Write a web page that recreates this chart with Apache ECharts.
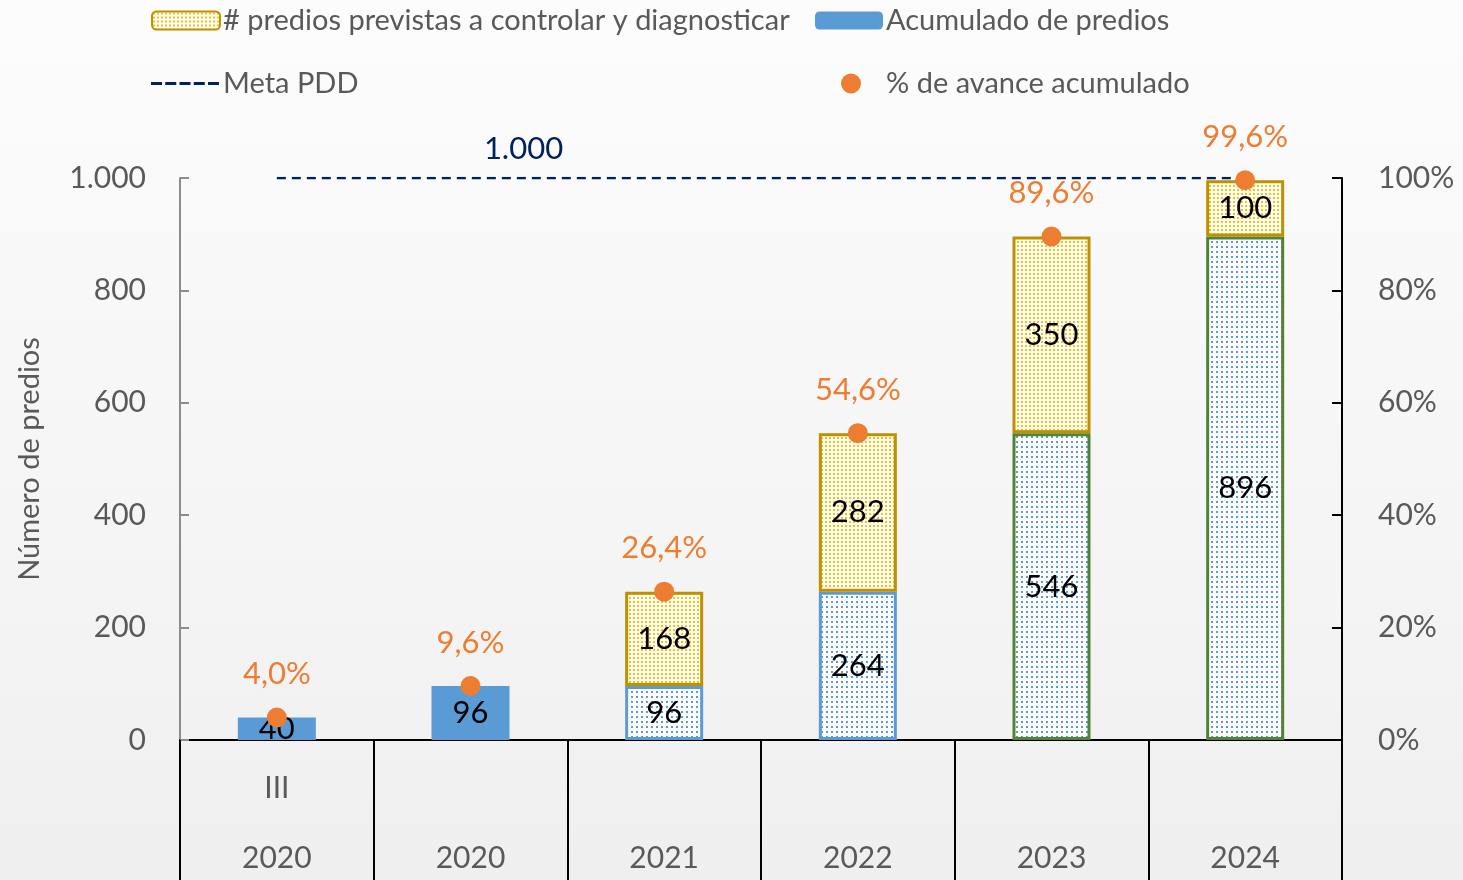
<!DOCTYPE html>
<html lang="es">
<head>
<meta charset="UTF-8">
<title>Predios</title>
<script src="https://cdn.jsdelivr.net/npm/echarts@6/dist/echarts.min.js"></script>
<style>
  html, body { margin: 0; padding: 0; }
  #main { width: 1463px; height: 880px; }
</style>
</head>
<body>
<div id="main"></div>
<script type="text/javascript">
// data
const periodos = ['III', '', '', '', '', ''];
const anios = ['2020', '2020', '2021', '2022', '2023', '2024'];
const acumulado = [40, 96, 96, 264, 546, 896];
const previstas = [null, null, 168, 282, 350, 100];
const metaPDD = [1000, 1000, 1000, 1000, 1000, 1000];
const avance = [4.0, 9.6, 26.4, 54.6, 89.6, 99.6];

const FONT = 'Lato';
const GREY = '#595959';

// small dotted pattern for the hatched bars
function dots(color, size) {
    const c = document.createElement('canvas');
    c.width = size; c.height = size;
    const ctx = c.getContext('2d');
    ctx.fillStyle = '#ffffff';
    ctx.fillRect(0, 0, size, size);
    ctx.fillStyle = color;
    ctx.fillRect(1, 1, 2, 2);
    return { image: c, repeat: 'repeat' };
}
const bluePat = dots('#5b9bd5', 5);
const yellowPat = dots('#ffc000', 4);

// per bar style of the blue series: first two solid, next hatched blue border, last green border
const acumData = acumulado.map((v, i) => {
    if (i < 2) return { value: v, itemStyle: { color: '#5b9bd5' } };
    return {
        value: v,
        itemStyle: { color: bluePat, borderColor: i < 4 ? '#5b9bd5' : '#548235', borderWidth: 3 }
    };
});

const fmt = v => String(v).replace(/\B(?=(\d{3})+(?!\d))/g, '.');

// dashed icon for the Meta PDD legend entry
const dashIcon = 'path://M0,0h11v3h-11z M14.25,0h11v3h-11z M28.5,0h11v3h-11z M42.75,0h11v3h-11z M57,0h11v3h-11z';

const legendText = { fontSize: 29, color: GREY, fontFamily: FONT };

let options = {
    backgroundColor: {
        type: 'linear', x: 0, y: 0, x2: 0, y2: 1,
        colorStops: [{ offset: 0, color: '#fcfcfc' }, { offset: 0.6, color: '#f5f5f5' }, { offset: 1, color: '#efefef' }]
    },
    animation: false,
    textStyle: { fontFamily: FONT },
    legend: [
        { left: 146, top: 1, itemWidth: 68, itemHeight: 18, data: ['# predios previstas a controlar y diagnosticar'],
          textStyle: Object.assign({ padding: [0, 0, 0, -2] }, legendText) },
        { left: 810, top: 1, itemWidth: 68, itemHeight: 18, data: ['Acumulado de predios'],
          textStyle: Object.assign({ padding: [0, 0, 0, -2] }, legendText) },
        { left: 146, top: 64, itemWidth: 70, itemHeight: 3,
          data: [{ name: 'Meta PDD', icon: dashIcon, itemStyle: { color: '#002060' } }],
          textStyle: Object.assign({ padding: [0, 0, 0, -2] }, legendText) },
        { left: 836, top: 64, itemWidth: 20, itemHeight: 20, data: ['% de avance acumulado'],
          textStyle: Object.assign({ padding: [0, 0, 0, 20] }, legendText) }
    ],
    grid: { left: 180, right: 121, top: 178, bottom: 140, containLabel: false, outerBoundsMode: 'none' },
    xAxis: {
        type: 'category',
        data: anios,
        axisLine: { lineStyle: { color: '#000', width: 2 } },
        axisTick: { show: true, length: 142, interval: 0, lineStyle: { color: '#000', width: 2 } },
        axisLabel: {
            interval: 0, margin: 13, fontSize: 30, color: GREY, fontFamily: FONT, lineHeight: 70,
            formatter: (v, i) => periodos[i] + '\n' + v
        }
    },
    yAxis: [{
        type: 'value', min: 0, max: 1000, interval: 200,
        name: 'Número de predios', nameLocation: 'middle', nameGap: 136, nameRotate: 90,
        nameTextStyle: { fontSize: 29, color: GREY, fontFamily: FONT },
        axisLine: { show: true, lineStyle: { color: '#8c8c8c', width: 2 } },
        axisTick: { show: true, inside: true, length: 9, lineStyle: { color: '#8c8c8c', width: 2 } },
        axisLabel: { fontSize: 30, color: GREY, fontFamily: FONT, margin: 34, formatter: fmt },
        splitLine: { show: false }
    }, {
        type: 'value', min: 0, max: 100, interval: 20,
        axisLine: { show: true, lineStyle: { color: '#000', width: 2 } },
        axisTick: { show: true, inside: true, length: 10, lineStyle: { color: '#000', width: 2 } },
        axisLabel: { fontSize: 30, color: GREY, fontFamily: FONT, margin: 36, formatter: '{value}%' },
        splitLine: { show: false }
    }],
    series: [{
        name: 'Acumulado de predios',
        type: 'bar', stack: 'a', barWidth: 78,
        data: acumData,
        itemStyle: { color: '#5b9bd5' },
        label: { show: true, position: 'inside', fontSize: 31, color: '#000', fontFamily: FONT }
    }, {
        name: '# predios previstas a controlar y diagnosticar',
        type: 'bar', stack: 'a', barWidth: 78,
        data: previstas,
        itemStyle: { color: yellowPat, borderColor: '#bf9000', borderWidth: 3 },
        label: { show: true, position: 'inside', fontSize: 31, color: '#000', fontFamily: FONT }
    }, {
        name: 'Meta PDD',
        type: 'line', data: metaPDD,
        symbol: 'none', z: 3,
        lineStyle: { color: '#002060', width: 2.5, type: [9, 6] },
        itemStyle: { color: '#002060' },
        markPoint: {
            symbol: 'circle', symbolSize: 0,
            data: [{ coord: [1, 1000], value: 1000 }],
            label: { show: true, position: 'top', offset: [53, -9], formatter: p => fmt(p.value),
                     color: '#002060', fontSize: 31, fontFamily: FONT }
        }
    }, {
        name: '% de avance acumulado',
        type: 'scatter', yAxisIndex: 1,
        data: avance, symbolSize: 20, z: 5,
        itemStyle: { color: '#ed7d31', opacity: 1 },
        label: {
            show: true, position: 'top', distance: 18, fontSize: 31, color: '#ed7d31', fontFamily: FONT,
            formatter: p => p.value.toFixed(1).replace('.', ',') + '%'
        }
    }]
};

let myChart = echarts.init(document.getElementById('main'));
myChart.setOption(options);
</script>
</body>
</html>
